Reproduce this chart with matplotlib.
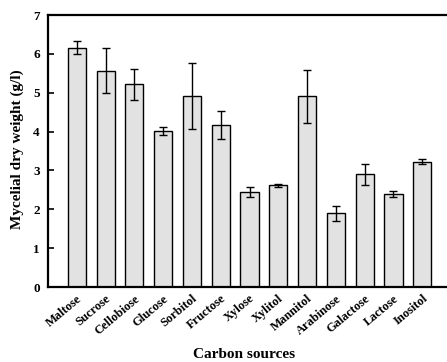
import numpy as np
import matplotlib
matplotlib.use("Agg")
import matplotlib.pyplot as plt

# carbon sources and mycelial dry weight (g/l)
sources = ["Maltose", "Sucrose", "Cellobiose", "Glucose", "Sorbitol", "Fructose",
           "Xylose", "Xylitol", "Mannitol", "Arabinose", "Galactose", "Lactose", "Inositol"]
weight = [6.16, 5.57, 5.22, 4.01, 4.91, 4.17, 2.44, 2.62, 4.91, 1.90, 2.90, 2.39, 3.23]
err = [0.16, 0.57, 0.40, 0.10, 0.85, 0.37, 0.13, 0.04, 0.68, 0.19, 0.27, 0.07, 0.06]
yticks = [0, 1, 2, 3, 4, 5, 6, 7]

plt.rcParams["font.family"] = ["Liberation Serif", "DejaVu Serif"]
plt.rcParams["font.weight"] = "bold"

fig = plt.figure(figsize=(4.47, 3.62), dpi=100)
ax = fig.add_axes([0.1074, 0.207, 0.9016, 0.7514])

x = np.arange(1, len(sources) + 1)
ax.bar(x, weight, width=0.63, color="#e2e2e2", edgecolor="black", linewidth=1.0)
ax.errorbar(x, weight, yerr=err, fmt="none", ecolor="black", elinewidth=1.0,
            capsize=3, capthick=1.0)

ax.set_xlim(0, 14)
ax.set_ylim(0, 7)
ax.set_yticks(yticks)
ax.set_yticklabels([str(t) for t in yticks], fontsize=9.5, fontweight="bold")
ax.set_xticks(x)
ax.set_xticklabels(sources, rotation=40, ha="right", rotation_mode="anchor",
                   fontsize=9, fontweight="bold")
ax.tick_params(axis="y", direction="in", length=4, width=1.2, pad=6)
ax.tick_params(axis="x", length=0, pad=4)

for side in ["top", "left", "bottom", "right"]:
    ax.spines[side].set_linewidth(1.6)

fig.text(0.038, 0.588, "Mycelial dry weight (g/l)", rotation=90, ha="center",
         va="center", fontsize=11, fontweight="bold")
fig.text(0.545, 0.022, "Carbon sources", ha="center", va="center",
         fontsize=11, fontweight="bold")

fig.savefig("out.png", dpi=100)
